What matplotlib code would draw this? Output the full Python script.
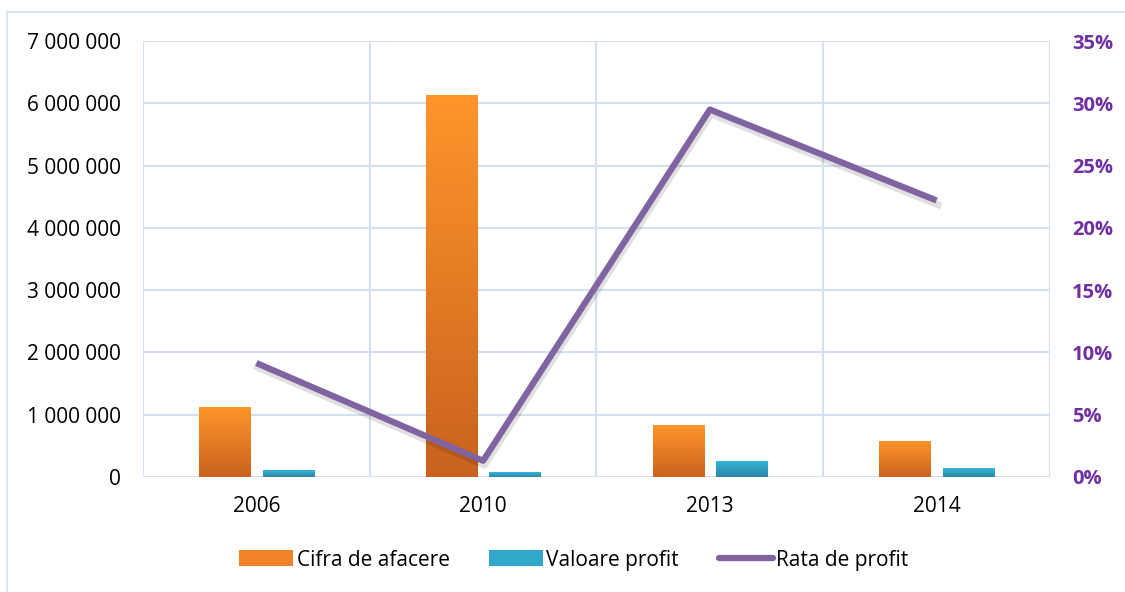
import numpy as np
import matplotlib.pyplot as plt
from matplotlib.patches import Patch, Rectangle
from matplotlib.lines import Line2D
from matplotlib.colors import LinearSegmentedColormap
from matplotlib.ticker import FuncFormatter

plt.rcParams['font.family'] = ['Open Sans', 'DejaVu Sans']

# data
years = ['2006', '2010', '2013', '2014']
cifra_afacere = [1120000, 6130000, 830000, 580000]
valoare_profit = [110000, 80000, 260000, 140000]
rata_profit = [9.15, 1.3, 29.5, 22.2]

GRID = '#D4E0F2'
LINE_C = '#8064A2'
AX2_C = '#7030A0'

orange_cm = LinearSegmentedColormap.from_list('org', ['#C8621E', '#FF952B'])
blue_cm = LinearSegmentedColormap.from_list('blu', ['#2B86A6', '#35B6D8'])

fig = plt.figure(figsize=(11.25, 5.92), dpi=100)
ax = fig.add_axes([0.1271, 0.1943, 0.8062, 0.7364])

# outer frame of the chart area
fig.patches.append(Rectangle((7 / 1125, -0.1), 1.2, 1 - 12 / 592 + 0.1,
                             transform=fig.transFigure, fill=False,
                             edgecolor=GRID, lw=1.2))

x = np.arange(len(years))
w = 0.225
off = 0.14


def gradient_bars(ax, xs, vals, cmap):
    bars = ax.bar(xs, vals, w, color='none', edgecolor='none', zorder=3)
    grad = np.linspace(0, 1, 256).reshape(-1, 1)
    for b in bars:
        x0, y0 = b.get_x(), b.get_y()
        x1, y1 = x0 + b.get_width(), y0 + b.get_height()
        # soft shadow
        ax.add_patch(Rectangle((x0 + 0.004, y0 - 25000), b.get_width(), b.get_height(),
                               facecolor='#000000', alpha=0.10, edgecolor='none', zorder=2))
        im = ax.imshow(grad, cmap=cmap, origin='lower', aspect='auto',
                       extent=[x0, x1, y0, y1], zorder=3)
        im.set_clip_path(b)
    return bars


gradient_bars(ax, x - off, cifra_afacere, orange_cm)
gradient_bars(ax, x + off, valoare_profit, blue_cm)

ax.set_xlim(-0.5, 3.5)
ax.set_ylim(0, 7000000)
ax.set_yticks(np.arange(0, 7000001, 1000000))
ax.yaxis.set_major_formatter(FuncFormatter(lambda v, p: '{:,.0f}'.format(v).replace(',', ' ')))
ax.set_xticks(x)
ax.set_xticklabels(years)
ax.grid(axis='y', color=GRID, lw=1.5, zorder=0)
for xv in np.arange(-0.5, 3.6, 1.0):
    ax.axvline(xv, color=GRID, lw=1.5, zorder=0)
for s in ax.spines.values():
    s.set_visible(False)
ax.tick_params(axis='both', length=0, labelsize=15, colors='black')
ax.tick_params(axis='x', pad=14)
ax.tick_params(axis='y', pad=16)

ax2 = ax.twinx()
ax2.set_ylim(0, 35)
ax2.set_yticks(np.arange(0, 36, 5))
ax2.yaxis.set_major_formatter(FuncFormatter(lambda v, p: '{:.0f}%'.format(v)))
ax2.tick_params(axis='y', length=0, labelsize=14.5, colors=AX2_C, pad=16)
for lbl in ax2.get_yticklabels():
    lbl.set_fontweight('bold')
for s in ax2.spines.values():
    s.set_visible(False)
# shadow under the line
ax2.plot(x + 0.006, np.array(rata_profit) - 0.35, color='black', alpha=0.12, lw=5, zorder=4)
ax2.plot(x, rata_profit, color=LINE_C, lw=4.5, zorder=5, solid_capstyle='butt')

handles = [Patch(facecolor='#F0832A', edgecolor='none'),
           Patch(facecolor='#31A8C8', edgecolor='none'),
           Line2D([0], [0], color=LINE_C, lw=4.5, solid_capstyle='round')]
fig.legend(handles, ['Cifra de afacere', 'Valoare profit', 'Rata de profit'],
           loc='center', bbox_to_anchor=(0.51, 0.054), ncol=3, frameon=False,
           fontsize=15, handlelength=2.6, handleheight=0.8, handletextpad=0.15,
           columnspacing=1.9)

fig.savefig('out.png', dpi=100)
